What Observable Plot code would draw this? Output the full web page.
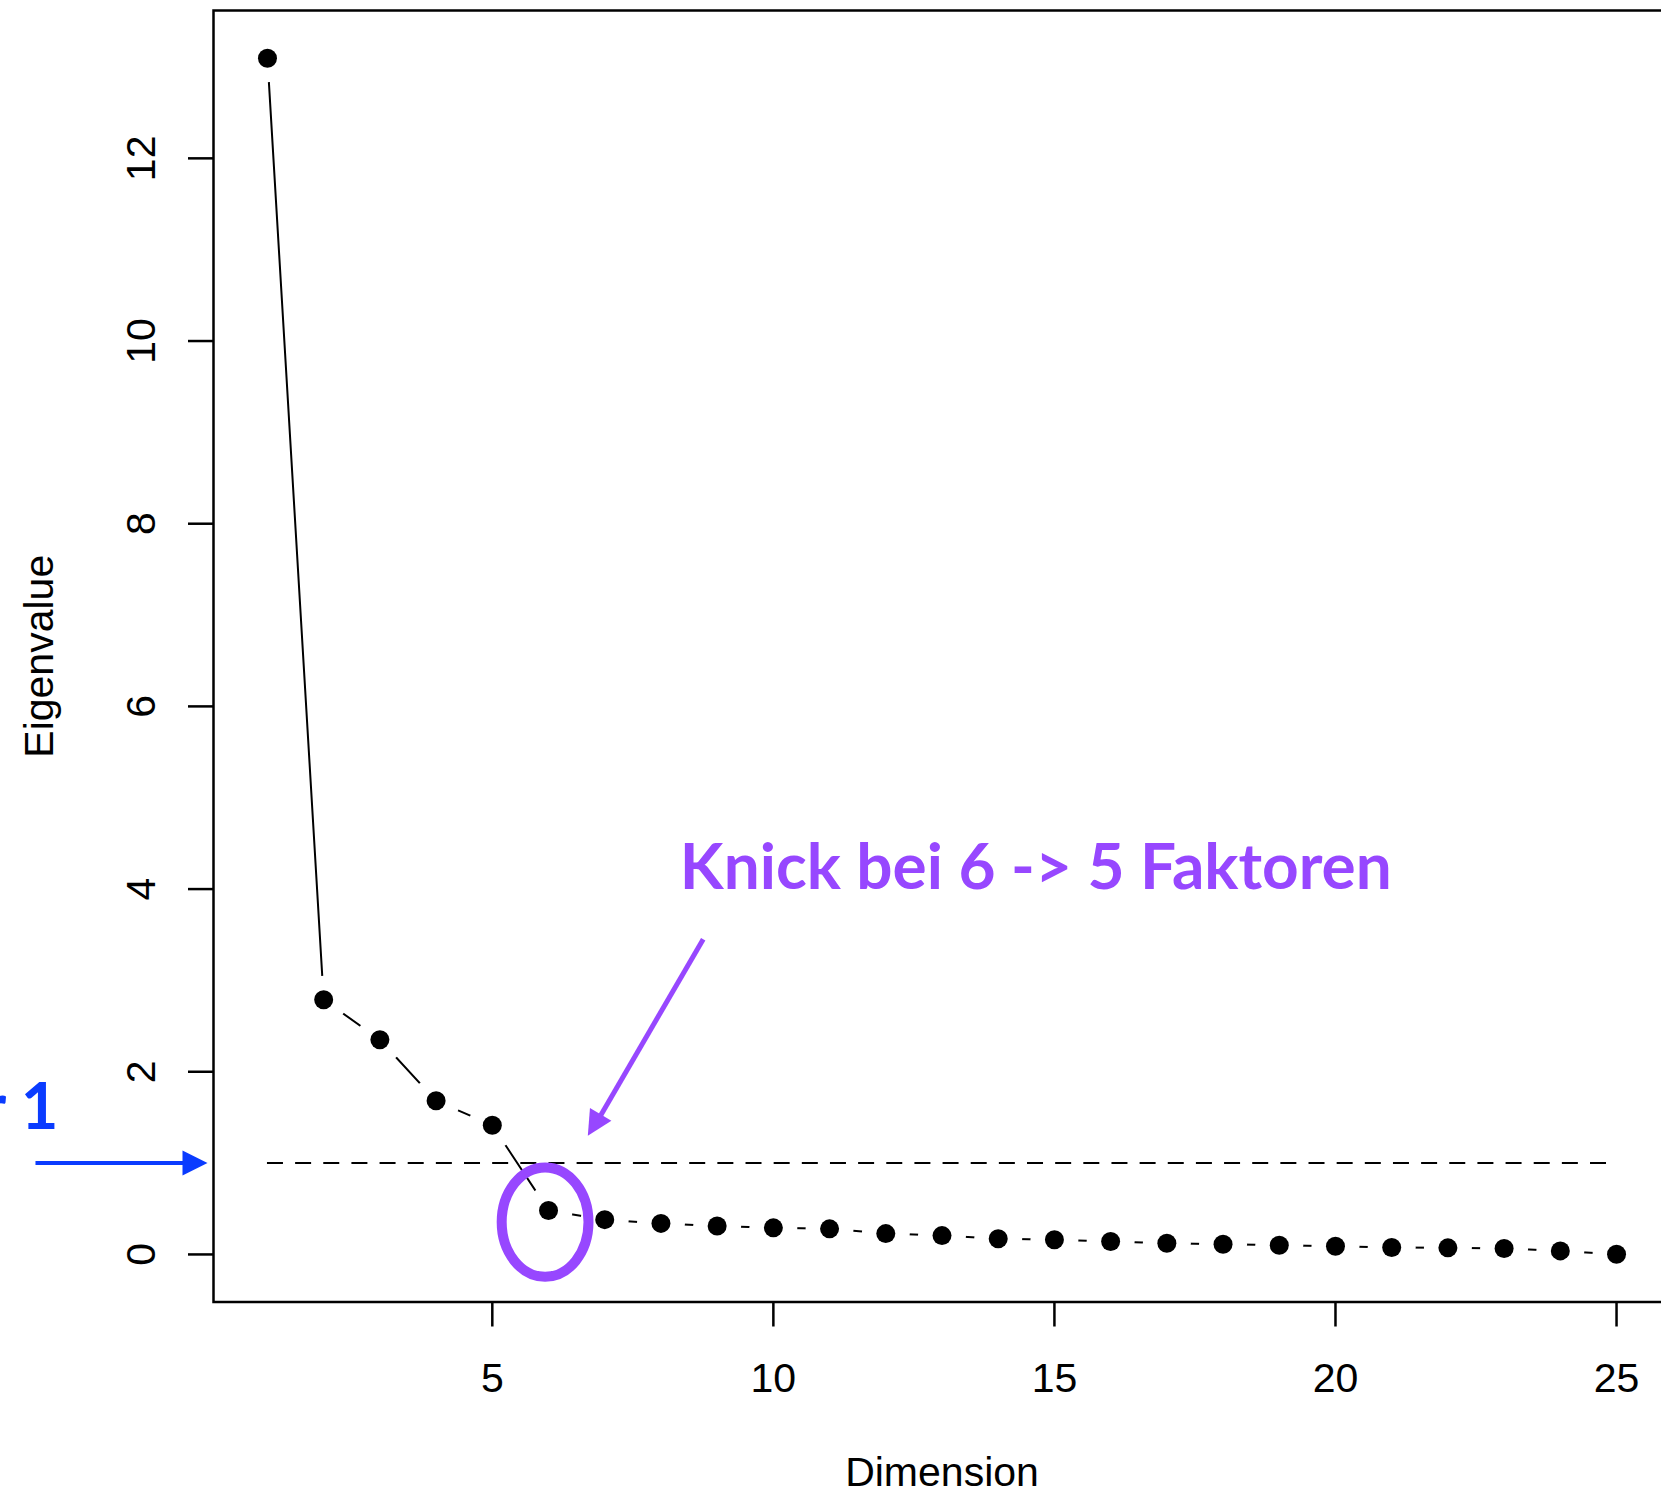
<!DOCTYPE html>
<html><head><meta charset="utf-8">
<script src="https://cdn.jsdelivr.net/npm/d3@7"></script>
<script src="https://cdn.jsdelivr.net/npm/@observablehq/plot@0.6"></script>
<style>html,body{margin:0;padding:0;background:#fff;overflow:hidden}</style>
</head><body><div id="chart"></div>
<script>
// ---- data ----
const dimensions = [1,2,3,4,5,6,7,8,9,10,11,12,13,14,15,16,17,18,19,20,21,22,23,24,25];
const eigenvalues = [13.095, 2.789, 2.351, 1.682, 1.415, 0.482, 0.381, 0.340, 0.311, 0.291,
                     0.280, 0.228, 0.206, 0.172, 0.160, 0.141, 0.123, 0.112, 0.101, 0.090,
                     0.076, 0.072, 0.065, 0.039, 0.003];
const xTicks = [5, 10, 15, 20, 25];
const yTicks = [0, 2, 4, 6, 8, 10, 12];
const kaiserThreshold = [1];
const kaiserSpan = [1, 25];

// annotations (data coordinates)
const knickLabel = ["Knick bei 6 -> 5 Faktoren"];
const knickLabelX = [8.336], knickLabelY = [4.006];
const knickArrowX = [8.752, 6.86], knickArrowY = [3.452, 1.45];
const knickTipX = [6.699], knickTipY = [1.299];
const elbowX = [5.939], elbowY = [0.354];
const kaiserLabel = ["Eigenwerte größer 1"];
const kaiserLabelX = [-2.72], kaiserLabelY = [1.372];
const kaiserArrowX = [-3.127, -0.30], kaiserArrowY = [1, 1];
const kaiserTipX = [-0.067], kaiserTipY = [1];

const purple = "#9747FF";
const blue = "#0a3bff";

const points = dimensions.map((d, i) => ({dim: d, ev: eigenvalues[i]}));

// R-like 4% axis expansion
function pad(ext) { const p = (ext[1] - ext[0]) * 0.04; return [ext[0] - p, ext[1] + p]; }
const xDomain = pad(d3.extent(dimensions));
const yDomain = pad(d3.extent(eigenvalues));

// custom symbols
function headSymbol(angleDeg, len, half) {
  const a = angleDeg * Math.PI / 180, c = Math.cos(a), s = Math.sin(a);
  const pts = [[0, 0], [-len, -half], [-len, half]].map(([x, y]) => [x * c - y * s, x * s + y * c]);
  return {draw(ctx) { ctx.moveTo(pts[0][0], pts[0][1]); ctx.lineTo(pts[1][0], pts[1][1]); ctx.lineTo(pts[2][0], pts[2][1]); ctx.closePath(); }};
}
function ellipseSymbol(rx, ry) {
  const k = 0.5523;
  return {draw(ctx) {
    ctx.moveTo(rx, 0);
    ctx.bezierCurveTo(rx, k * ry, k * rx, ry, 0, ry);
    ctx.bezierCurveTo(-k * rx, ry, -rx, k * ry, -rx, 0);
    ctx.bezierCurveTo(-rx, -k * ry, -k * rx, -ry, 0, -ry);
    ctx.bezierCurveTo(k * rx, -ry, rx, -k * ry, rx, 0);
    ctx.closePath();
  }};
}

const chart = Plot.plot({
  width: 1661,
  height: 1494,
  marginLeft: 213,
  marginRight: -9,
  marginTop: 10,
  marginBottom: 192.5,
  style: {fontFamily: "'Liberation Sans', Arial, Helvetica, sans-serif", fontSize: "41px", background: "white", color: "black", overflow: "visible"},
  x: {domain: xDomain},
  y: {domain: yDomain},
  marks: [
    Plot.ruleY(kaiserThreshold, {y: d => d, x1: () => kaiserSpan[0], x2: () => kaiserSpan[1], stroke: "black", strokeWidth: 2, strokeDasharray: "16,12.15", strokeLinecap: "butt"}),
    Plot.line(points, {x: "dim", y: "ev", stroke: "black", strokeWidth: 2}),
    Plot.dot(points, {x: "dim", y: "ev", r: 24, fill: "white", stroke: "none"}),
    Plot.dot(points, {x: "dim", y: "ev", r: 9.5, fill: "black", stroke: "none"}),
    Plot.frame({stroke: "black", strokeWidth: 2.5}),
    Plot.axisX({ticks: xTicks, tickSize: 25, tickPadding: 36, strokeWidth: 2.5, fontSize: 41, label: null, tickFormat: d => String(d)}),
    Plot.axisY({ticks: yTicks, tickSize: 25, tickPadding: 34, tickRotate: -90, textAnchor: "middle", lineAnchor: "bottom", strokeWidth: 2.5, fontSize: 41, label: null, tickFormat: d => String(d)}),
    Plot.text(["Dimension"], {frameAnchor: "bottom", text: d => d, dy: 184, lineAnchor: "bottom", fontSize: 41, fill: "black"}),
    Plot.text(["Eigenvalue"], {frameAnchor: "left", text: d => d, rotate: -90, dx: -161, lineAnchor: "bottom", textAnchor: "middle", fontSize: 41, fill: "black"}),
    // elbow ellipse
    Plot.dot(elbowX, {x: elbowX, y: elbowY, symbol: ellipseSymbol(43.4, 54.7), fill: "none", stroke: purple, strokeWidth: 10}),
    // knick annotation
    Plot.link([0], {x1: [knickArrowX[0]], y1: [knickArrowY[0]], x2: [knickArrowX[1]], y2: [knickArrowY[1]], stroke: purple, strokeWidth: 5}),
    Plot.dot(knickTipX, {x: knickTipX, y: knickTipY, symbol: headSymbol(121, 25, 12.5), fill: purple, stroke: "none"}),
    Plot.text(knickLabel, {x: knickLabelX, y: knickLabelY, text: d => d, textAnchor: "start", lineAnchor: "bottom", fontFamily: "Lato", fontWeight: 700, fontSize: 63.9, fill: purple}),
    // kaiser annotation
    Plot.link([0], {x1: [kaiserArrowX[0]], y1: [kaiserArrowY[0]], x2: [kaiserArrowX[1]], y2: [kaiserArrowY[1]], stroke: blue, strokeWidth: 4}),
    Plot.dot(kaiserTipX, {x: kaiserTipX, y: kaiserTipY, symbol: headSymbol(0, 25, 12.5), fill: blue, stroke: "none"}),
    Plot.text(kaiserLabel, {x: kaiserLabelX, y: kaiserLabelY, text: d => d, textAnchor: "end", lineAnchor: "bottom", fontFamily: "Lato", fontWeight: 700, fontSize: 65, fill: blue})
  ]
});
document.getElementById("chart").appendChild(chart);
</script>
</body></html>
